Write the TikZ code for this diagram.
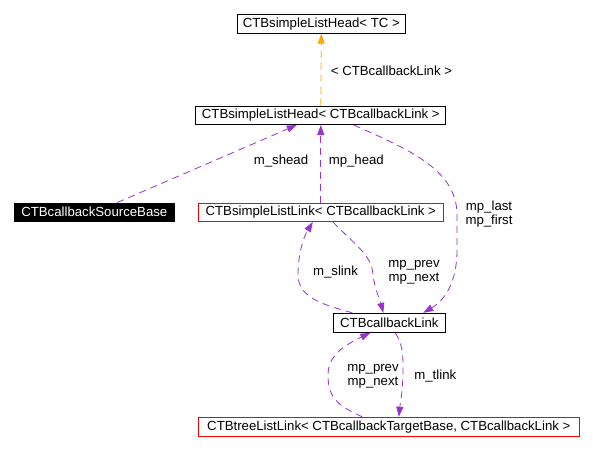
\documentclass[tikz,border=0pt]{standalone}
\usepackage{fontspec}
\setmainfont{Liberation Sans}
\usetikzlibrary{arrows.meta}
\definecolor{edgepurple}{HTML}{9A32CD}
\definecolor{edgeorange}{HTML}{FFA500}
\begin{document}
\begin{tikzpicture}[x=1pt,y=-1pt,
  every node/.style={font=\fontsize{13.2}{14}\selectfont, inner sep=0pt},
  classbox/.style={draw=black, line width=0.9pt, minimum height=18.5pt, anchor=center, fill=white},
  redbox/.style={classbox, draw=red},
  blackbox/.style={classbox, fill=black, text=white},
  lbl/.style={align=center, anchor=center},
  rel/.style={draw=edgepurple, line width=0.8pt, dash pattern=on 7pt off 5pt, -{Triangle[length=10pt,width=7pt,fill=edgepurple]}},
  tmpl/.style={draw=edgeorange, line width=0.8pt, dash pattern=on 7pt off 5pt, -{Triangle[length=10pt,width=7pt,fill=edgeorange]}}
]
\path[use as bounding box, fill=white] (0,0) rectangle (593,451);

\node[classbox, minimum width=168.5pt] (tc) at (321.3,24) {CTBsimpleListHead< TC >};
\node[classbox, minimum width=250pt] (slhead) at (320.8,115.3) {CTBsimpleListHead< CTBcallbackLink >};
\node[blackbox, minimum width=160.5pt] (src) at (94.3,212.2) {CTBcallbackSourceBase};
\node[redbox, minimum width=245pt] (sllink) at (320.8,212.2) {CTBsimpleListLink< CTBcallbackLink >};
\node[classbox, minimum width=112pt, minimum height=19pt] (cblink) at (389.3,322.8) {CTBcallbackLink};
\node[redbox, minimum width=381pt, minimum height=19pt] (tree) at (388.8,426.7) {CTBtreeListLink< CTBcallbackTargetBase, CTBcallbackLink >};

% template instantiation
\draw[tmpl] (slhead.north) -- (tc.south);
\node[lbl] (l1) at (391.5,71) {< CTBcallbackLink >};

% m_shead
\draw[rel] ([xshift=23pt]src.north) -- ([xshift=-24pt]slhead.south);
\node[lbl] (l2) at (281,161) {m\_shead};

% mp_head
\draw[rel] (sllink.north) -- (slhead.south);
\node[lbl] (l3) at (356.3,161) {mp\_head};

% mp_last / mp_first
\draw[rel] ([xshift=33pt]slhead.south) .. controls (410,150) and (457,170) .. (457,215)
  -- (457,250) .. controls (457,282) and (445,300) .. ([xshift=34pt]cblink.north);
\node[lbl] (l4) at (489,214) {mp\_last\\mp\_first};

% mp_prev / mp_next (sllink -> cblink)
\draw[rel] ([xshift=12pt]sllink.south) .. controls (355,245) and (372,255) .. (373,275)
  .. controls (375,290) and (380,300) .. ([xshift=-6pt]cblink.north);
\node[lbl] (l5) at (414,272.5) {mp\_prev\\mp\_next};

% m_slink (cblink -> sllink)
\draw[rel] ([xshift=-37pt]cblink.north) .. controls (330,306) and (298,300) .. (298,275)
  .. controls (298,255) and (303,238) .. ([xshift=-8pt]sllink.south);
\node[lbl] (l6) at (335.5,272) {m\_slink};

% mp_prev / mp_next (tree -> cblink)
\draw[rel] ([xshift=-26.5pt]tree.north) .. controls (335,405) and (328,395) .. (328,375)
  .. controls (328,355) and (345,345) .. ([xshift=-19pt]cblink.south);
\node[lbl] (l7) at (373,376.3) {mp\_prev\\mp\_next};

% m_tlink (cblink -> tree)
\draw[rel] ([xshift=6pt]cblink.south) .. controls (403,345) and (403,355) .. (403,370)
  .. controls (403,390) and (400,405) .. ([xshift=10pt]tree.north);
\node[lbl] (l8) at (435.3,376) {m\_tlink};
\end{tikzpicture}
\end{document}
